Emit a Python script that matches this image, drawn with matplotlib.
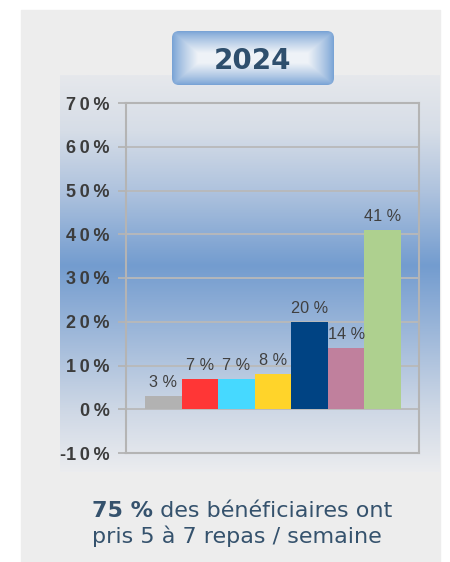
import numpy as np
import matplotlib.pyplot as plt
from matplotlib.patches import Rectangle, FancyBboxPatch
from matplotlib.colors import LinearSegmentedColormap, to_rgb

# data
values = [3, 7, 7, 8, 20, 14, 41]
value_labels = ['3 %', '7 %', '7 %', '8 %', '20 %', '14 %', '41 %']
bar_colors = ['#b2b2b2', '#ff3636', '#46d9ff', '#ffd42a', '#004383', '#c0809d', '#aed08f']
yticks = [-10, 0, 10, 20, 30, 40, 50, 60, 70]
ytick_labels = ['-1\u20090\u2009%', '0\u2009%', '1\u20090\u2009%', '2\u20090\u2009%', '3\u20090\u2009%',
                '4\u20090\u2009%', '5\u20090\u2009%', '6\u20090\u2009%', '7\u20090\u2009%']
title = '2024'
note_bold = '75 %'
note_rest = ' des bénéficiaires ont'
note_line2 = 'pris 5 à 7 repas / semaine'

W, H = 450, 562
fig = plt.figure(figsize=(W / 100, H / 100), dpi=100)
fig.patch.set_facecolor('white')

def fx(px):
    return px / W

def fy(py):
    return 1 - py / H

# grey panel
fig.patches.append(Rectangle((fx(21), 0), fx(440) - fx(21), fy(10), transform=fig.transFigure,
                             color='#ededed', zorder=-5))

# gradient background behind the chart
bg = fig.add_axes([fx(60), fy(472), fx(440) - fx(60), fy(75) - fy(472)], zorder=0)
stops = [(0.0, '#e6e8ec'), (0.14, '#d6dde7'), (0.29, '#afc3de'), (0.48, '#739ccf'),
         (0.64, '#9bb6d9'), (0.84, '#cdd7e5'), (1.0, '#ebecef')]
cmap = LinearSegmentedColormap.from_list('bg', stops)
bg.imshow(np.linspace(0, 1, 256).reshape(-1, 1), cmap=cmap, aspect='auto')
bg.axis('off')

# main chart
ax = fig.add_axes([fx(126), fy(453), fx(419) - fx(126), fy(103) - fy(453)], zorder=1)
ax.patch.set_alpha(0)
x = np.arange(len(values))
ax.bar(x, values, width=1.0, color=bar_colors, zorder=3)
ax.set_xlim(-1.02, 6.99)
ax.set_ylim(-10, 70)
ax.set_xticks([])
ax.set_yticks(yticks)
ax.set_yticklabels(ytick_labels, family=['Liberation Sans', 'DejaVu Sans'],
                   fontsize=13, weight='bold', color='#3c3c3c')
ax.yaxis.grid(True, color='#b9b9b9', lw=1.3, zorder=1)
ax.tick_params(axis='y', length=5.8, width=1.3, color='#b4b4b4', pad=5.8)
for s in ax.spines.values():
    s.set_color('#b4b4b4')
    s.set_linewidth(1.5)

for xi, v, lab in zip(x, values, value_labels):
    ax.annotate(lab, (xi, v), xytext=(0, 6.5), textcoords='offset points', ha='center',
                va='baseline', fontsize=11.7, color='#404040', family='Liberation Sans')

# title box with pillow shading
bw, bh = 162, 54
tax = fig.add_axes([fx(172), fy(85), fx(334) - fx(172), fy(31) - fy(85)], zorder=2)
yy, xx = np.mgrid[0:bh, 0:bw] + 0.5
d = np.minimum(np.minimum(xx, bw - xx) / 26, np.minimum(yy, bh - yy) / 22)
t = np.clip(d, 0, 1) ** 0.8
edge = np.array(to_rgb('#74a0d4'))
centre = np.array(to_rgb('#eef2f7'))
img = edge + (centre - edge) * t[..., None]
im = tax.imshow(img, extent=(0, bw, 0, bh), aspect='auto')
clip = FancyBboxPatch((0, 0), bw, bh, boxstyle='round,pad=0,rounding_size=7',
                      transform=tax.transData, facecolor='none', edgecolor='none')
tax.add_patch(clip)
im.set_clip_path(clip)
tax.set_xlim(0, bw)
tax.set_ylim(0, bh)
tax.axis('off')
fig.text(fx(253), fy(69.3), title, ha='center', va='baseline', fontsize=20, weight='bold',
         color='#2f4f6d', family='DejaVu Sans', zorder=5)

# note below
t1 = fig.text(fx(92), fy(516.7), note_bold, ha='left', va='baseline', fontsize=16,
              weight='bold', color='#35526d', family='DejaVu Sans')
fig.text(0, 0, '')
fig.texts.append(plt.Annotation(note_rest, xy=(1, 0), xycoords=t1, ha='left', va='bottom',
                                fontsize=16, color='#35526d', family='DejaVu Sans'))
fig.texts[-1].set_figure(fig)
fig.text(fx(92), fy(543.3), note_line2, ha='left', va='baseline', fontsize=16,
         color='#35526d', family='DejaVu Sans')

fig.savefig('out.png', dpi=100)
